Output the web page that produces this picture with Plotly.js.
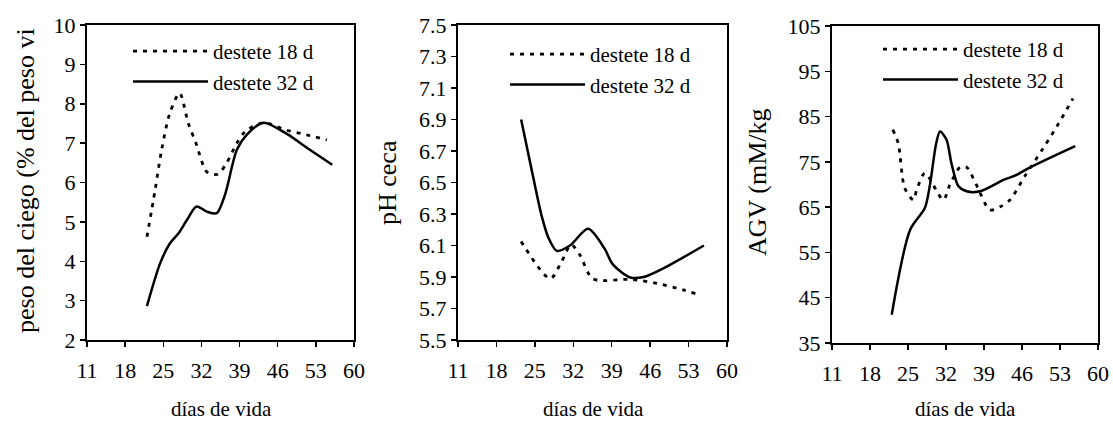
<!DOCTYPE html>
<html><head><meta charset="utf-8">
<script src="https://cdn.plot.ly/plotly-3.0.1.min.js"></script>
<style>html,body{margin:0;padding:0;background:#fff}</style>
</head><body><div id="chart" style="width:1113px;height:425px"></div>
<script>
// ---- data ----
const seriesNames = ['destete 18 d', 'destete 32 d'];
const xTicks = [11, 18, 25, 32, 39, 46, 53, 60];

// peso del ciego (% del peso vivo)
const pesoDays18 = [22, 23.5, 24.7, 26.2, 28, 29.6, 31, 33, 35, 36.6, 38.5, 40, 43.4, 47.6, 51.3, 55];
const peso18 = [4.62, 5.81, 6.83, 7.76, 8.27, 7.5, 7.0, 6.27, 6.21, 6.49, 7.0, 7.29, 7.52, 7.33, 7.21, 7.08];
const pesoDays32 = [22, 24.4, 26.2, 27.8, 29.3, 31.1, 33, 34.8, 36.3, 38.5, 40.3, 43.4, 47.6, 51.9, 56];
const peso32 = [2.86, 3.94, 4.45, 4.71, 5.04, 5.39, 5.26, 5.22, 5.68, 6.83, 7.21, 7.52, 7.24, 6.83, 6.45];

// pH ceca
const phDays18 = [22.5, 27.8, 29.9, 31.6, 33.2, 35.6, 42.4, 47.2, 52, 54.6];
const ph18 = [6.126, 5.89, 6.0, 6.105, 6.04, 5.888, 5.885, 5.86, 5.818, 5.79];
const phDays32 = [22.5, 24.6, 26.3, 27.5, 29, 31.4, 34.7, 37.7, 39.2, 42.4, 44.8, 48.4, 55.8];
const ph32 = [6.9, 6.55, 6.28, 6.147, 6.066, 6.10, 6.206, 6.08, 5.98, 5.897, 5.90, 5.955, 6.10];

// AGV (mM/kg)
const agvDays18 = [22.2, 23.2, 24.4, 26, 26.6, 28.1, 31.5, 32.7, 34.6, 35.8, 37.6, 40.1, 42, 43.8, 46.5, 49.9, 52.4, 55.4];
const agv18 = [82.1, 79.1, 69.2, 66.6, 68.8, 72.5, 66.6, 69.9, 73.8, 73.8, 69.9, 64.4, 65.1, 66.6, 71.8, 78.0, 82.8, 89.0];
const agvDays32 = [22, 25.4, 28.1, 29, 30.2, 30.9, 32.1, 33, 34.3, 35.8, 38.3, 42.6, 45, 47.5, 55.8];
const agv32 = [41.25, 60.0, 64.8, 69.6, 79.1, 81.7, 79.9, 74.7, 69.6, 68.5, 68.5, 71.0, 72.1, 73.8, 78.5];

// ---- styling ----
const FONT = 'Liberation Serif, Times New Roman, serif';
const W = 1113, H = 425;
const px = v => v / W, py = v => 1 - v / H;

function mkTrace(x, y, name, idx, leg, dashed) {
  return {
    x: x, y: y, name: name, type: 'scatter', mode: 'lines',
    xaxis: idx === 1 ? 'x' : 'x' + idx, yaxis: idx === 1 ? 'y' : 'y' + idx,
    legend: leg,
    line: {color: '#000', width: dashed ? 2.8 : 2.5, shape: 'spline', smoothing: 0.8,
           dash: dashed ? '4px,6px' : 'solid'}
  };
}

const data = [
  mkTrace(pesoDays18, peso18, seriesNames[0], 1, 'legend', true),
  mkTrace(pesoDays32, peso32, seriesNames[1], 1, 'legend', false),
  mkTrace(phDays18, ph18, seriesNames[0], 2, 'legend2', true),
  mkTrace(phDays32, ph32, seriesNames[1], 2, 'legend2', false),
  mkTrace(agvDays18, agv18, seriesNames[0], 3, 'legend3', true),
  mkTrace(agvDays32, agv32, seriesNames[1], 3, 'legend3', false)
];

function xAxis(d0, d1, anchor) {
  return {domain: [px(d0), px(d1)], anchor: anchor, range: [11, 60], tickvals: xTicks,
    ticks: 'outside', ticklen: 5, tickwidth: 1.5, tickcolor: '#000', ticklabelstandoff: 5,
    showline: true, linewidth: 2, linecolor: '#000', mirror: true,
    showgrid: false, zeroline: false, fixedrange: true,
    tickfont: {family: FONT, size: 22, color: '#000'}};
}
function yAxis(top, bottom, anchor, range, dtick) {
  return {domain: [py(bottom), py(top)], anchor: anchor, range: range, dtick: dtick, tick0: range[0],
    ticks: 'outside', ticklen: 5, tickwidth: 1.5, tickcolor: '#000',
    showline: true, linewidth: 2, linecolor: '#000', mirror: true,
    showgrid: false, zeroline: false, fixedrange: true,
    tickfont: {family: FONT, size: 22, color: '#000'}};
}
function legendAt(xl, yt) {
  return {x: px(xl), y: py(yt), xanchor: 'left', yanchor: 'top', bgcolor: 'rgba(0,0,0,0)',
    borderwidth: 0, itemwidth: 75, font: {family: FONT, size: 21, color: '#000'}, tracegroupgap: 0};
}

const annFont = {family: FONT, size: 21, color: '#000'};
const yFont = {family: FONT, size: 26, color: '#000'};
function ann(text, x, y, font, angle) {
  return {text: text, x: px(x), y: py(y), xref: 'paper', yref: 'paper', showarrow: false,
    xanchor: 'center', yanchor: 'middle', textangle: angle || 0, font: font};
}
const layout = {
  width: W, height: H, margin: {l: 0, r: 0, t: 0, b: 0},
  paper_bgcolor: '#fff', plot_bgcolor: '#fff', showlegend: true,
  font: {family: FONT, size: 21, color: '#000'},
  xaxis: xAxis(87, 354, 'y'),
  yaxis: yAxis(25, 340, 'x', [2, 10], 1),
  xaxis2: xAxis(458, 727, 'y2'),
  yaxis2: yAxis(25, 340, 'x2', [5.5, 7.5], 0.2),
  xaxis3: xAxis(832, 1098, 'y3'),
  yaxis3: yAxis(26, 343, 'x3', [35, 105], 10),
  legend: legendAt(128, 31),
  legend2: legendAt(505, 34),
  legend3: legendAt(878, 29),
  annotations: [
    ann('días de vida', 221, 409, annFont),
    ann('días de vida', 593, 409, annFont),
    ann('días de vida', 965, 409, annFont),
    ann('peso del ciego (% del peso vi', 25, 181, yFont, -90),
    ann('pH ceca', 387, 183, yFont, -90),
    ann('AGV (mM/kg', 757, 182, yFont, -90)
  ]
};

Plotly.newPlot('chart', data, layout, {staticPlot: true, displayModeBar: false});
</script></body></html>
